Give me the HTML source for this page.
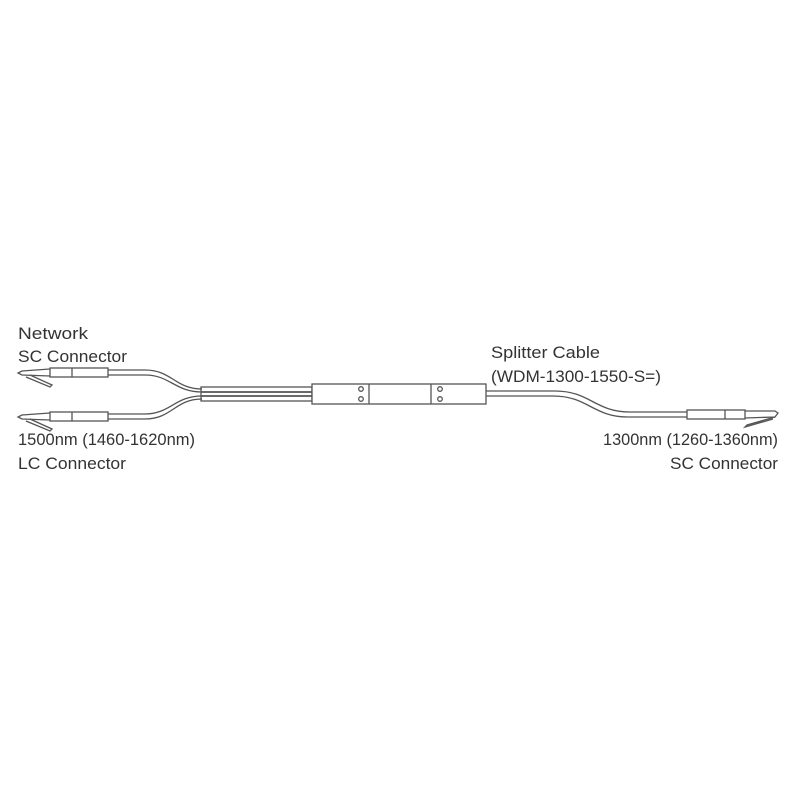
<!DOCTYPE html>
<html><head><style>
html,body{margin:0;padding:0;background:#fff;}
svg{display:block}
text{font-family:"Liberation Sans",sans-serif;font-size:17px;fill:#333;}
</style></head><body>
<svg width="800" height="800" viewBox="0 0 800 800" xmlns="http://www.w3.org/2000/svg">
<rect width="800" height="800" fill="#fff"/>
<g stroke="#555" stroke-width="1.3" fill="none">
<path d="M50,369 L22,371 L18,373 L22,375 L50,376"/>
<path d="M30,375 L52,385 L50,387 L26,377"/>
<rect x="50" y="368" width="58" height="9" fill="#fff"/>
<line x1="72" y1="368" x2="72" y2="377"/>
<path d="M108,370 L145,370 C172,370 175,389 202,389"/>
<path d="M108,375 L145,375 C170,375 175,392 202,392"/>
<path d="M50,413 L22,415 L18,417 L22,419 L50,420"/>
<path d="M30,419 L52,429 L50,431 L26,421"/>
<rect x="50" y="412" width="58" height="9" fill="#fff"/>
<line x1="72" y1="412" x2="72" y2="421"/>
<path d="M108,414 L145,414 C170,414 175,396 202,396"/>
<path d="M108,419 L145,419 C172,419 175,399 202,399"/>
<rect x="201" y="387" width="111" height="14"/>
<line x1="201" y1="392" x2="312" y2="392" stroke-width="1.8"/>
<line x1="201" y1="396" x2="312" y2="396" stroke-width="1.8"/>
<rect x="312" y="384" width="174" height="20" fill="#fff"/>
<line x1="369" y1="384" x2="369" y2="404"/>
<line x1="431" y1="384" x2="431" y2="404"/>
<circle cx="361" cy="389" r="2.3"/><circle cx="361" cy="399" r="2.3"/>
<circle cx="440" cy="389" r="2.3"/><circle cx="440" cy="399" r="2.3"/>
<path d="M486,391 L555,391 C590,391 595,412 630,412 L688,412"/>
<path d="M486,396 L553,396 C588,396 593,417 628,417 L688,417"/>
<rect x="687" y="410" width="58" height="9" fill="#fff"/>
<line x1="725" y1="410" x2="725" y2="419"/>
<path d="M745,411 L775,411 L778,413 L775,417 L745,418"/>
<path d="M775,417 L747,425 L745,427 L773,419"/>
</g>
<text x="18" y="339" textLength="70" lengthAdjust="spacingAndGlyphs">Network</text>
<text x="18" y="362" textLength="109" lengthAdjust="spacingAndGlyphs">SC Connector</text>
<text x="18" y="445" textLength="177" lengthAdjust="spacingAndGlyphs">1500nm (1460-1620nm)</text>
<text x="18" y="469" textLength="108" lengthAdjust="spacingAndGlyphs">LC Connector</text>
<text x="491" y="358" textLength="109" lengthAdjust="spacingAndGlyphs">Splitter Cable</text>
<text x="491" y="382" textLength="170" lengthAdjust="spacingAndGlyphs">(WDM-1300-1550-S=)</text>
<text x="603" y="445" textLength="175" lengthAdjust="spacingAndGlyphs">1300nm (1260-1360nm)</text>
<text x="670" y="469" textLength="108" lengthAdjust="spacingAndGlyphs">SC Connector</text>
</svg>
</body></html>
